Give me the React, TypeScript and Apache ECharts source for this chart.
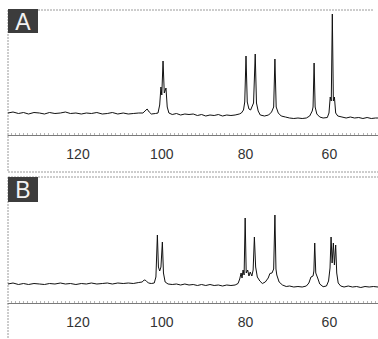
import React, { useEffect, useRef } from "react";
import * as echarts from "echarts";

// ppm tick labels
const tickLabels = [120, 100, 80, 60];
// minor ticks every 1 ppm
const minorTicks: number[] = [];
for (let v = 49; v <= 136; v++) minorTicks.push(v);

const axisMin = 48.4;
const axisMax = 136.7;

// Spectrum A: [ppm, intensity]
const spectrumA: [number, number][] = [
  [136.7, 22], [135.5, 23], [134.2, 21.5], [133, 22.5], [131.8, 21], [130.5, 22.5], [129.2, 22], [128, 21],
  [126.8, 22.5], [125.5, 21.5], [124.2, 22], [123, 23], [121.8, 21.5], [120.5, 22], [119.2, 21], [118, 22],
  [116.8, 21.5], [115.5, 22.5], [114.2, 21], [113, 21.5], [111.8, 22.5], [110.5, 21], [109.2, 22], [108, 21],
  [106.8, 21.5], [105.5, 22], [104.5, 22], [104, 24], [103.5, 26], [103, 23], [102.5, 21], [101.5, 21.5],
  [100.9, 22], [100.5, 30], [100.2, 48], [100, 40], [99.7, 74], [99.4, 42], [99.0, 47], [98.7, 28],
  [98.3, 22], [97.5, 20.5], [96.5, 21.5], [95.5, 20], [94.5, 21], [93.5, 20.5], [92.5, 21], [91.5, 19.5],
  [90.5, 20.5], [89.5, 19], [88.5, 20], [87.5, 19.5], [86.5, 20.5], [85.5, 19], [84.5, 20], [83.5, 19.5],
  [82.5, 20], [81.5, 21], [81, 22], [80.5, 25], [80.2, 33], [79.9, 79], [79.6, 33], [79.2, 26],
  [78.8, 25], [78.5, 28], [78.1, 32], [77.7, 81], [77.4, 32], [77, 24], [76.5, 20], [75.5, 19],
  [74.5, 20], [73.8, 23], [73.3, 28], [73.0, 76], [72.7, 28], [72.2, 22], [71.5, 19], [70.5, 18],
  [69.5, 17], [68.5, 16.5], [67.5, 17], [66.5, 16.5], [65.5, 17], [64.7, 19], [64.1, 24], [63.9, 28],
  [63.65, 72], [63.4, 28], [63.0, 21], [62.3, 18], [61.5, 17], [60.5, 17.5], [60.1, 22], [59.8, 38],
  [59.55, 34], [59.3, 121], [59.05, 34], [58.8, 38], [58.5, 22], [58, 19], [57, 18], [56, 17],
  [55, 18], [54, 17], [53, 17.5], [52, 16.5], [51, 17.5], [50, 16.5], [49, 17], [48.4, 17],
];

// Spectrum B: [ppm, intensity]
const spectrumB: [number, number][] = [
  [136.7, 19], [135.5, 20], [134.2, 18.5], [133, 19.5], [131.8, 18.5], [130.5, 19.5], [129.2, 19], [128, 18.5],
  [126.8, 19.5], [125.5, 19], [124.2, 20], [123, 19], [121.8, 19.5], [120.5, 18.5], [119.2, 19.5], [118, 19],
  [116.8, 20], [115.5, 19], [114.2, 19.5], [113, 20], [111.8, 19], [110.5, 20], [109.2, 19.5], [108, 20],
  [106.8, 19.5], [105.5, 20.5], [104.7, 21], [104.2, 23], [103.8, 22.5], [103.2, 20], [102.5, 19.5], [101.8, 20],
  [101.4, 26], [101.05, 68], [100.8, 36], [100.5, 32], [100.2, 36], [99.86, 61], [99.6, 30], [99.2, 21],
  [98.5, 19], [97.5, 18.5], [96.5, 19], [95.5, 18], [94.5, 19], [93.5, 18], [92.5, 18.5], [91.5, 17.5],
  [90.5, 18.5], [89.5, 17.5], [88.5, 18.5], [87.5, 17.5], [86.5, 18], [85.5, 17], [84.5, 18], [83.5, 17.5],
  [82.5, 18], [81.8, 19.5], [81.4, 24], [81.07, 30], [80.85, 25], [80.6, 33], [80.35, 28], [80.1, 85],
  [79.85, 30], [79.5, 33], [79.2, 27], [78.9, 31], [78.5, 27], [78.2, 33], [77.9, 66], [77.6, 36],
  [77.2, 26], [76.6, 22], [76, 19.5], [75.3, 21], [74.6, 25], [74.2, 29.5], [73.7, 30], [73.3, 34],
  [73.0, 88], [72.75, 34], [72.55, 28], [72, 21], [71.2, 18], [70.3, 16.5], [69.5, 17], [68.5, 16],
  [67.5, 16.5], [66.5, 16], [65.5, 17], [64.9, 20], [64.4, 26], [63.9, 27], [63.7, 32], [63.5, 60],
  [63.25, 30], [62.8, 25], [62.3, 19], [61.5, 16.3], [60.7, 17], [60.2, 22], [59.85, 35], [59.6, 66],
  [59.35, 40], [59.05, 60], [58.8, 38], [58.5, 58], [58.25, 30], [57.9, 20], [57.3, 17], [56.5, 16],
  [55.5, 17], [54.5, 16], [53.5, 16.5], [52.5, 15.5], [51.5, 16.5], [50.5, 16], [49.5, 16.5], [48.4, 16],
];

const panelLabels = ["A", "B"];

const frameColor = "#9a9a9a";

function makeXAxis(gridIndex: number) {
  return {
    type: "value",
    gridIndex,
    min: axisMin,
    max: axisMax,
    inverse: true,
    position: "bottom",
    splitLine: { show: false },
    axisLine: { show: true, lineStyle: { color: "#7a7a7a", width: 1 } },
    axisTick: {
      show: true,
      inside: true,
      length: 2,
      customValues: minorTicks,
      lineStyle: { color: "#b5b5b5", width: 1 },
    },
    axisLabel: {
      show: true,
      customValues: tickLabels,
      margin: 12,
      fontSize: 14,
      color: "#333",
      fontFamily: "Liberation Sans, Arial, sans-serif",
    },
  };
}

export default function App() {
  const ref = useRef<HTMLDivElement>(null);
  useEffect(() => {
    if (!ref.current) return;
    const chart = echarts.init(ref.current, null, { renderer: "svg" });
    const lineStyle = { color: "#111", width: 1 };
    chart.setOption({
      animation: false,
      backgroundColor: "#fff",
      grid: [
        { left: 8, top: 10, width: 370, height: 125 },
        { left: 8, top: 177, width: 370, height: 126 },
      ],
      xAxis: [makeXAxis(0), makeXAxis(1)],
      yAxis: [
        { type: "value", gridIndex: 0, min: 0, max: 125, show: false },
        { type: "value", gridIndex: 1, min: 0, max: 126, show: false },
      ],
      series: [
        {
          type: "line",
          xAxisIndex: 0,
          yAxisIndex: 0,
          data: spectrumA,
          showSymbol: false,
          symbol: "none",
          lineStyle,
          clip: true,
        },
        {
          type: "line",
          xAxisIndex: 1,
          yAxisIndex: 1,
          data: spectrumB,
          showSymbol: false,
          symbol: "none",
          lineStyle,
          clip: true,
        },
      ],
      graphic: [
        { type: "line", shape: { x1: 8, y1: 10, x2: 373, y2: 10 }, style: { stroke: frameColor, lineWidth: 1, lineDash: [2, 1] } },
        { type: "line", shape: { x1: 8, y1: 10, x2: 8, y2: 172 }, style: { stroke: frameColor, lineWidth: 1, lineDash: [2, 1] } },
        { type: "line", shape: { x1: 8, y1: 172, x2: 378, y2: 172 }, style: { stroke: frameColor, lineWidth: 1, lineDash: [2, 1] } },
        { type: "line", shape: { x1: 8, y1: 177, x2: 378, y2: 177 }, style: { stroke: frameColor, lineWidth: 1, lineDash: [2, 1] } },
        { type: "line", shape: { x1: 8, y1: 177, x2: 8, y2: 339 }, style: { stroke: frameColor, lineWidth: 1, lineDash: [2, 1] } },
        { type: "rect", shape: { x: 8, y: 9, width: 30, height: 24 }, style: { fill: "#3c3c3c" } },
        {
          type: "text",
          x: 23,
          y: 22,
          style: {
            text: panelLabels[0],
            fill: "#f2f2f2",
            fontSize: 23,
            fontFamily: "Liberation Sans, Arial, sans-serif",
            align: "center",
            verticalAlign: "middle",
          },
        },
        { type: "rect", shape: { x: 8, y: 177, width: 30, height: 25 }, style: { fill: "#3c3c3c" } },
        {
          type: "text",
          x: 23,
          y: 190,
          style: {
            text: panelLabels[1],
            fill: "#f2f2f2",
            fontSize: 23,
            fontFamily: "Liberation Sans, Arial, sans-serif",
            align: "center",
            verticalAlign: "middle",
          },
        },
      ],
    });
    return () => chart.dispose();
  }, []);
  return <div ref={ref} style={{ width: 378, height: 339, position: "absolute", left: 0, top: 0 }} />;
}
